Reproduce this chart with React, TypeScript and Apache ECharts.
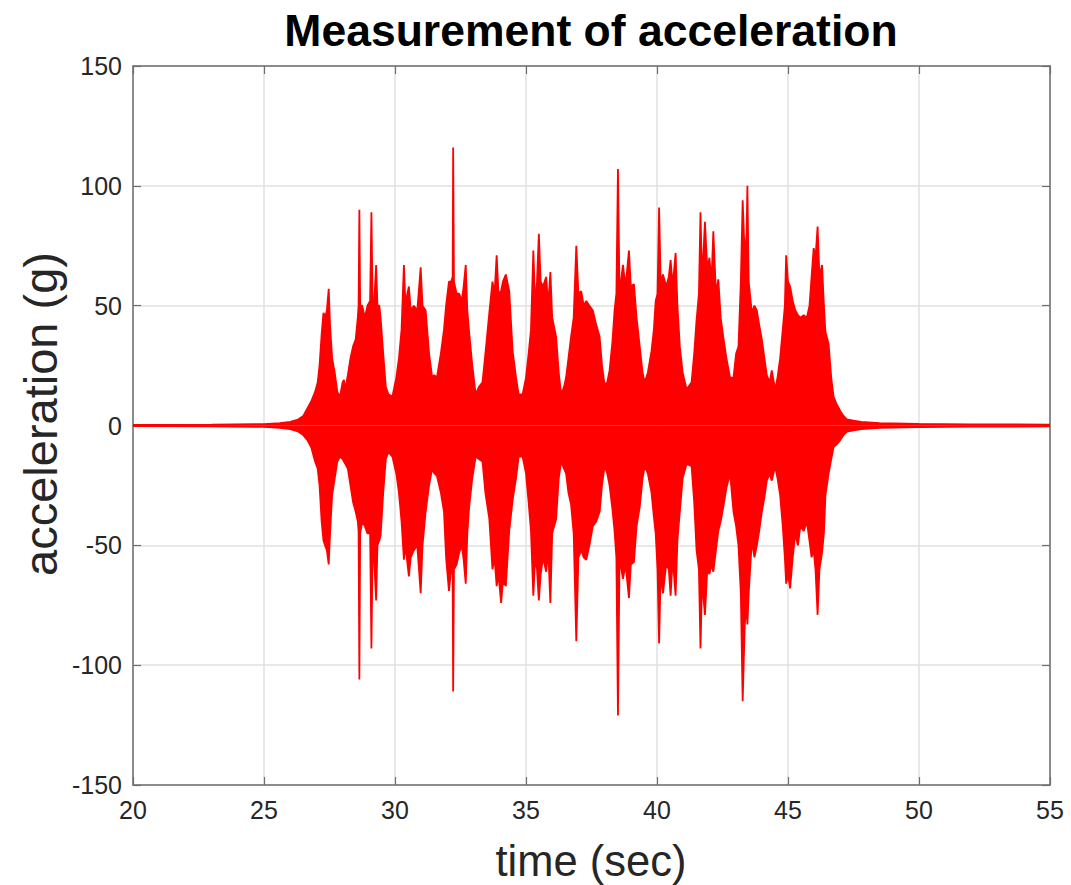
import React, { useEffect, useRef } from "react";
import * as echarts from "echarts";

const titleText = "Measurement of acceleration";
const xLabel = "time (sec)";
const yLabel = "acceleration (g)";

const xTicks = { min: 20, max: 55, interval: 5 };
const yTicks = { min: -150, max: 150, interval: 50 };

// upper envelope of the signal: [time (s), acceleration (g)]
const upperEnvelope: [number, number][] = [
  [20, 0.3], [23, 0.4], [25, 0.6], [25.6, 1], [26, 1.5], [26.3, 2.5], [26.5, 4], [26.65, 7], [26.8, 10], [26.95, 14],
  [27.05, 18], [27.12, 25], [27.2, 38], [27.27, 47], [27.33, 45], [27.4, 48], [27.47, 57], [27.52, 42], [27.6, 28], [27.7, 22],
  [27.8, 14], [27.9, 12], [28.0, 18], [28.05, 19], [28.1, 15], [28.2, 21], [28.3, 28], [28.4, 33], [28.5, 36], [28.58, 45],
  [28.61, 50], [28.64, 90], [28.67, 50], [28.75, 50], [28.85, 45], [28.95, 50], [29.05, 52], [29.1, 89], [29.15, 48], [29.2, 50],
  [29.28, 67], [29.33, 50], [29.4, 50], [29.45, 45], [29.55, 30], [29.65, 16], [29.75, 13], [29.9, 12], [30.05, 20], [30.15, 28],
  [30.25, 40], [30.34, 67], [30.4, 50], [30.47, 55], [30.53, 58], [30.6, 48], [30.72, 50], [30.85, 48], [30.98, 66], [31.05, 50],
  [31.17, 48], [31.3, 30], [31.42, 20], [31.5, 21], [31.6, 20], [31.75, 30], [31.87, 40], [31.95, 50], [32.06, 60], [32.14, 60],
  [32.2, 62], [32.22, 116], [32.25, 60], [32.35, 55], [32.45, 55], [32.55, 52], [32.62, 58], [32.7, 67], [32.76, 48], [32.83, 39],
  [32.95, 25], [33.08, 13], [33.2, 16], [33.34, 18], [33.45, 30], [33.6, 47], [33.72, 60], [33.8, 55], [33.88, 71], [33.95, 55],
  [34.05, 56], [34.12, 60], [34.23, 63], [34.36, 56], [34.49, 31], [34.62, 20], [34.72, 13], [34.87, 13], [35.0, 20], [35.1, 30],
  [35.19, 40], [35.28, 73], [35.35, 50], [35.42, 60], [35.49, 80], [35.56, 60], [35.65, 58], [35.77, 62], [35.85, 50], [35.93, 64],
  [36.0, 45], [36.15, 37], [36.25, 22], [36.34, 13], [36.45, 16], [36.53, 20], [36.62, 28], [36.72, 37], [36.82, 45], [36.92, 75],
  [37.0, 55], [37.11, 56], [37.2, 50], [37.3, 52], [37.42, 50], [37.55, 48], [37.68, 42], [37.81, 37], [37.9, 25], [38.0, 17],
  [38.1, 18], [38.19, 23], [38.3, 35], [38.38, 48], [38.45, 55], [38.51, 107], [38.57, 55], [38.7, 67], [38.8, 58], [38.93, 73],
  [39.0, 58], [39.12, 59], [39.22, 45], [39.34, 33], [39.45, 22], [39.53, 18], [39.65, 22], [39.79, 31], [39.88, 40], [39.95, 52],
  [40.02, 55], [40.08, 91], [40.14, 60], [40.23, 63], [40.35, 58], [40.45, 62], [40.52, 69], [40.6, 58], [40.71, 72], [40.78, 50],
  [40.87, 33], [40.98, 22], [41.13, 15], [41.32, 18], [41.42, 30], [41.51, 44], [41.6, 55], [41.66, 89], [41.72, 60], [41.83, 85],
  [41.92, 65], [42.0, 70], [42.08, 60], [42.15, 81], [42.25, 55], [42.34, 61], [42.43, 45], [42.53, 37], [42.65, 28], [42.79, 20],
  [42.92, 20], [43.02, 30], [43.11, 33], [43.2, 60], [43.27, 94], [43.35, 70], [43.42, 80], [43.45, 100], [43.5, 60], [43.62, 47],
  [43.72, 50], [43.81, 48], [43.9, 42], [44.0, 36], [44.1, 28], [44.19, 21], [44.3, 18], [44.38, 23], [44.51, 15], [44.6, 20],
  [44.7, 28], [44.8, 40], [44.88, 50], [44.93, 71], [45.0, 60], [45.08, 58], [45.18, 52], [45.28, 48], [45.38, 46], [45.47, 45],
  [45.6, 46], [45.72, 45], [45.82, 50], [45.9, 62], [45.98, 74], [46.05, 70], [46.13, 83], [46.2, 62], [46.3, 67], [46.37, 50],
  [46.43, 39], [46.55, 34], [46.65, 20], [46.74, 12], [46.85, 9], [47.0, 6], [47.12, 4], [47.25, 2.5], [47.5, 2], [47.8, 1.5],
  [48.5, 1], [50, 0.7], [52, 0.5], [55, 0.4],
];

// lower envelope of the signal: [time (s), acceleration (g)]
const lowerEnvelope: [number, number][] = [
  [20, -0.3], [23, -0.4], [25, -0.6], [25.6, -1], [26, -1.5], [26.3, -2.5], [26.5, -4], [26.65, -6], [26.8, -9], [26.95, -15],
  [27.05, -18], [27.12, -25], [27.2, -40], [27.27, -48], [27.33, -50], [27.4, -52], [27.47, -58], [27.52, -45], [27.6, -29], [27.7, -22],
  [27.8, -15], [27.9, -13], [28.0, -14], [28.1, -16], [28.2, -18], [28.3, -25], [28.4, -32], [28.5, -36], [28.58, -40], [28.61, -44],
  [28.64, -106], [28.67, -45], [28.75, -40], [28.85, -42], [28.95, -45], [29.05, -45], [29.1, -93], [29.15, -47], [29.2, -55], [29.28, -73],
  [29.33, -50], [29.4, -48], [29.45, -46], [29.55, -28], [29.65, -14], [29.75, -11], [29.9, -13], [30.05, -20], [30.15, -28], [30.25, -40],
  [30.34, -56], [30.4, -50], [30.47, -57], [30.53, -63], [30.6, -55], [30.72, -52], [30.85, -50], [30.98, -70], [31.05, -50], [31.17, -36],
  [31.3, -25], [31.42, -18], [31.5, -20], [31.6, -21], [31.75, -28], [31.87, -36], [31.95, -55], [32.06, -69], [32.14, -60], [32.2, -62],
  [32.22, -111], [32.25, -60], [32.35, -58], [32.45, -53], [32.55, -50], [32.62, -56], [32.7, -66], [32.76, -45], [32.83, -34], [32.95, -22],
  [33.08, -13], [33.2, -14], [33.34, -15], [33.45, -28], [33.6, -39], [33.72, -60], [33.8, -55], [33.88, -67], [33.95, -62], [34.05, -74],
  [34.12, -65], [34.23, -67], [34.36, -44], [34.49, -31], [34.62, -22], [34.72, -13], [34.87, -13], [35.0, -20], [35.1, -32], [35.19, -44],
  [35.28, -71], [35.35, -55], [35.42, -60], [35.49, -73], [35.56, -62], [35.65, -55], [35.77, -61], [35.85, -52], [35.93, -74], [36.0, -45],
  [36.15, -39], [36.25, -22], [36.34, -15], [36.45, -18], [36.53, -20], [36.62, -28], [36.72, -33], [36.82, -45], [36.92, -90], [37.0, -55],
  [37.11, -52], [37.2, -55], [37.3, -56], [37.42, -50], [37.55, -42], [37.68, -40], [37.81, -36], [37.9, -25], [38.0, -17], [38.1, -20],
  [38.19, -25], [38.3, -35], [38.38, -44], [38.45, -55], [38.51, -121], [38.57, -55], [38.7, -64], [38.8, -58], [38.93, -72], [39.0, -58],
  [39.12, -57], [39.22, -42], [39.34, -34], [39.45, -22], [39.53, -17], [39.65, -20], [39.79, -28], [39.88, -38], [39.95, -45], [40.02, -60],
  [40.08, -91], [40.14, -62], [40.23, -70], [40.35, -58], [40.45, -60], [40.52, -71], [40.6, -55], [40.71, -71], [40.78, -48], [40.87, -36],
  [40.98, -22], [41.13, -16], [41.32, -17], [41.42, -32], [41.51, -52], [41.6, -60], [41.66, -93], [41.72, -65], [41.83, -79], [41.92, -60],
  [42.0, -62], [42.08, -58], [42.15, -61], [42.25, -52], [42.34, -44], [42.43, -40], [42.53, -34], [42.65, -26], [42.79, -20], [42.92, -36],
  [43.02, -42], [43.11, -50], [43.2, -70], [43.27, -115], [43.35, -83], [43.42, -75], [43.45, -83], [43.5, -70], [43.62, -48], [43.72, -55],
  [43.81, -50], [43.9, -44], [44.0, -36], [44.1, -30], [44.19, -23], [44.3, -20], [44.38, -23], [44.51, -17], [44.6, -22], [44.7, -29],
  [44.8, -42], [44.88, -55], [44.93, -66], [45.0, -62], [45.08, -68], [45.18, -55], [45.28, -45], [45.38, -50], [45.47, -42], [45.6, -44],
  [45.72, -40], [45.82, -48], [45.9, -55], [45.98, -52], [46.05, -60], [46.13, -79], [46.2, -60], [46.3, -53], [46.37, -45], [46.43, -29],
  [46.55, -20], [46.65, -14], [46.74, -9], [46.85, -8], [47.0, -6], [47.12, -4], [47.25, -2.5], [47.5, -2], [47.8, -1.5], [48.5, -1],
  [50, -0.7], [52, -0.5], [55, -0.4],
];

const FONT = "'Liberation Sans', Arial, Helvetica, sans-serif";
const AXIS_COLOR = "#6e6e6e";
const TEXT_COLOR = "#262626";
const GRID_COLOR = "#e0e0e0";
const SIGNAL_COLOR = "#ff0000";

export default function App() {
  const ref = useRef<HTMLDivElement>(null);

  useEffect(() => {
    if (!ref.current) return;
    const chart = echarts.init(ref.current, null, { renderer: "svg" });

    const axisLine = { show: true, onZero: false, lineStyle: { color: AXIS_COLOR, width: 1.5 } };
    const axisTick = { show: true, inside: true, length: 8, lineStyle: { color: AXIS_COLOR, width: 1.2 } };
    const tickLabel = { fontSize: 25, color: TEXT_COLOR, fontFamily: FONT };
    const splitLine = { show: true, lineStyle: { color: GRID_COLOR, width: 1.5 } };

    const signalSeries = (name: string, data: [number, number][]) => ({
      name,
      type: "line",
      data,
      symbol: "none",
      showSymbol: false,
      lineStyle: { color: SIGNAL_COLOR, width: 1.8 },
      areaStyle: { color: SIGNAL_COLOR, opacity: 1, origin: 0 },
      itemStyle: { color: SIGNAL_COLOR },
      z: 3,
    });

    chart.setOption({
      animation: false,
      backgroundColor: "#ffffff",
      grid: { left: 133, right: 21, top: 66, bottom: 100, containLabel: false },
      xAxis: [
        {
          type: "value",
          position: "bottom",
          ...xTicks,
          axisLine,
          axisTick,
          axisLabel: { ...tickLabel, margin: 12 },
          splitLine,
        },
        {
          type: "value",
          position: "top",
          ...xTicks,
          axisLine,
          axisTick,
          axisLabel: { show: false },
          splitLine: { show: false },
        },
      ],
      yAxis: [
        {
          type: "value",
          position: "left",
          ...yTicks,
          axisLine,
          axisTick,
          axisLabel: { ...tickLabel, margin: 11 },
          splitLine,
        },
        {
          type: "value",
          position: "right",
          ...yTicks,
          axisLine,
          axisTick,
          axisLabel: { show: false },
          splitLine: { show: false },
        },
      ],
      series: [signalSeries("upper", upperEnvelope), signalSeries("lower", lowerEnvelope)],
      graphic: [
        {
          type: "text",
          x: 591,
          y: 30,
          style: {
            text: titleText,
            fill: "#000000",
            fontSize: 44.5,
            fontWeight: "bold",
            fontFamily: FONT,
            align: "center",
            verticalAlign: "middle",
          },
        },
        {
          type: "text",
          x: 591,
          y: 861,
          style: {
            text: xLabel,
            fill: TEXT_COLOR,
            fontSize: 43.5,
            fontFamily: FONT,
            align: "center",
            verticalAlign: "middle",
          },
        },
        {
          type: "text",
          x: 40,
          y: 414,
          rotation: Math.PI / 2,
          style: {
            text: yLabel,
            fill: TEXT_COLOR,
            fontSize: 47,
            fontFamily: FONT,
            align: "center",
            verticalAlign: "middle",
          },
        },
      ],
    });

    return () => chart.dispose();
  }, []);

  return (
    <div
      ref={ref}
      style={{ position: "fixed", left: 0, top: 0, width: 1071, height: 885, background: "#ffffff" }}
    />
  );
}
